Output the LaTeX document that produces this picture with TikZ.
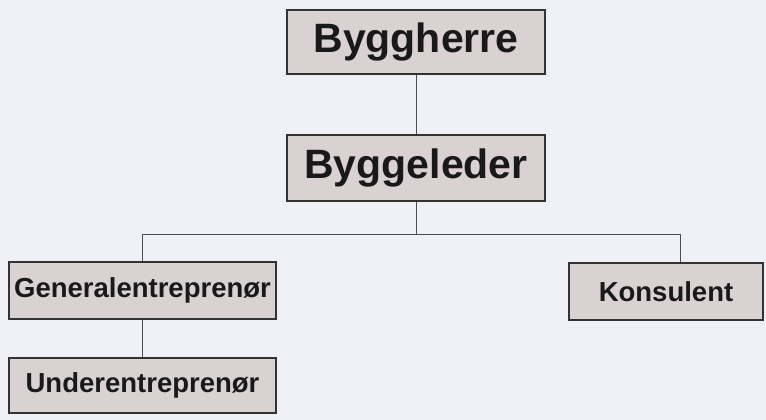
\documentclass[tikz,border=0pt]{standalone}
\usepackage{fontspec}
\setmainfont{Liberation Sans}
\begin{document}
\begin{tikzpicture}[x=1pt,y=-1pt,
  orgbox/.style={draw=black!80, line width=1.1pt, fill=boxfill, inner sep=0pt,
    font=\bfseries, text=black!90},
  link/.style={draw=black!70, line width=0.7pt}]
\definecolor{boxfill}{HTML}{D9D1D2}
\definecolor{paper}{HTML}{EFF1F7}
% page
\fill[paper] (0,0) rectangle (766,420);
\useasboundingbox (0,0) rectangle (766,420);
% boxes (centres in pixel coordinates)
\node[orgbox, minimum width=258pt, minimum height=64pt, font=\fontsize{41}{44}\selectfont\bfseries]
  (herre) at (416,42) {Byggherre};
\node[orgbox, minimum width=258pt, minimum height=66pt, font=\fontsize{41}{44}\selectfont\bfseries]
  (leder) at (416,168) {Byggeleder};
\node[orgbox, minimum width=267pt, minimum height=57pt, font=\fontsize{27.5}{30}\selectfont\bfseries]
  (general) at (142.5,290.5) {Generalentreprenør};
\node[orgbox, minimum width=267pt, minimum height=55pt, font=\fontsize{27.5}{30}\selectfont\bfseries]
  (under) at (142.5,385.5) {Underentreprenør};
\node[orgbox, minimum width=194pt, minimum height=57pt, font=\fontsize{27.5}{30}\selectfont\bfseries]
  (konsulent) at (666,291.5) {Konsulent};
% connectors
\coordinate (split) at (416,234);
\draw[link] (herre.south) -- (leder.north);
\draw[link] (leder.south) -- (split);
\draw[link] (split) -| (general.north);
\draw[link] (split) -| ([xshift=14pt]konsulent.north);
\draw[link] (general.south) -- (under.north);
\end{tikzpicture}
\end{document}
